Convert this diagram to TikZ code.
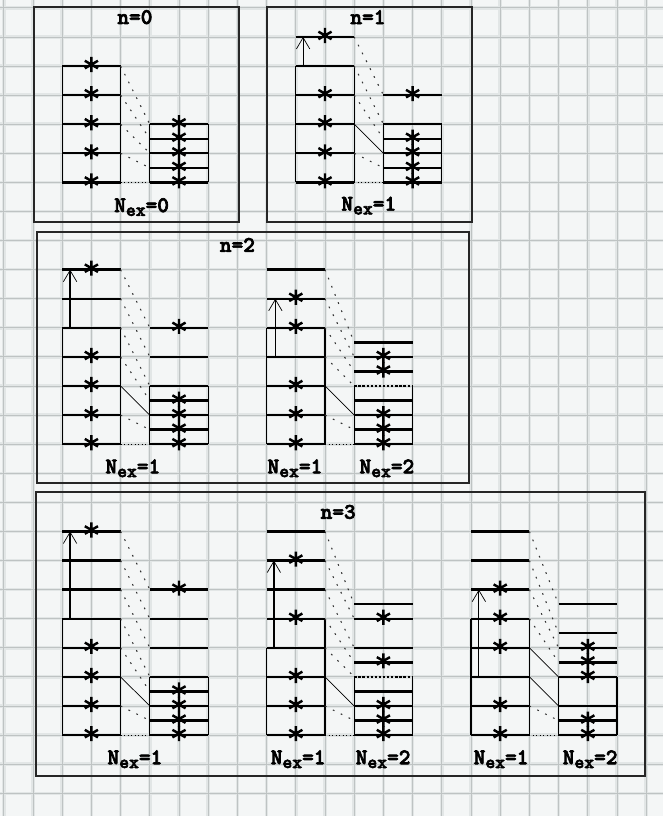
\documentclass[tikz,border=0pt]{standalone}
\usepackage{fontspec}
\newfontfamily\labfont{lmmonolt10-bold}[Extension=.otf, FakeBold=3]
\usepackage{tikz}
\usetikzlibrary{arrows.meta}
\definecolor{paper}{RGB}{244,246,246}
\definecolor{rule}{RGB}{190,195,195}
\definecolor{haze}{RGB}{226,230,230}
\newcommand\nex[1]{N\raisebox{-.4ex}{\fontsize{16}{16}\selectfont ex}=#1}

\begin{document}
\begin{tikzpicture}[x=0.876cm, y=0.8727cm]

        % Styles for levels, links and labels
        \tikzset{
            lev/.style={line width=2pt},
            open lev/.style={line width=1.5pt, dash pattern=on 2pt off 1.5pt},
            side/.style={line width=1pt},
            link/.style={black!80, line width=0.9pt, dash pattern=on 1.5pt off 6pt},
            floor/.style={line width=0.8pt, dash pattern=on 0.8pt off 2.2pt},
            slide/.style={line width=0.6pt},
            hop/.style={line width=1.4pt, -{Straight Barb[length=3.4mm, width=4mm, line width=0.6pt]}},
            thin hop/.style={hop, line width=0.7pt},
            frame/.style={line width=1.2pt, black!85},
            heading/.style={font=\labfont\fontsize{19}{21}\selectfont, inner sep=0pt},
            elec/.pic={\draw[line width=2.1pt] (0,-.26) -- (0,.26) (-30:.26) -- (150:.26) (30:.26) -- (210:.26);}
        }

        % =================================================================
        % Graph paper
        % =================================================================
        \useasboundingbox (-1.130,-25.782) rectangle (21.575,2.269);
        \fill[paper] (-1.130,-25.782) rectangle (21.575,2.269);
        \draw[haze, line width=3pt, step=1] (-1.130,-25.782) grid (21.575,2.269);
        \draw[rule, line width=0.7pt, step=1] (-1.130,-25.782) grid (21.575,2.269);

        % Frames and titles
        \draw[frame] (0.03,-5.36) rectangle (7.05,2.03);
        \draw[frame] (8.01,-5.36) rectangle (15.03,2.03);
        \draw[frame] (0.14,-14.33) rectangle (14.93,-5.71);
        \draw[frame] (0.10,-24.41) rectangle (20.96,-14.64);
        \draw[frame, line width=2pt] (0.10,-14.64) -- (20.96,-14.64);
        \node[heading] (n0) at (3.49,1.68) {n=0};
        \node[heading] (n1) at (11.47,1.68) {n=1};
        \node[heading] (n2) at (7.00,-6.15) {n=2};
        \node[heading] (n3) at (10.45,-15.33) {n=3};

        % =================================================================
        % 1. n=0
        % =================================================================
        \begin{scope}[shift={(1,-4)}]
            \foreach \y in {0,1,2,3,4} \draw[lev] (0,\y) -- (2,\y);
            \draw[side] (0,0) -- (0,4) (2,0) -- (2,4);
            \foreach \y in {0,1,2,3,4} \pic at (1,\y+.05) {elec};

            \foreach \y in {0,.5,1,1.5,2} \draw[lev] (3,\y) -- (5,\y);
            \draw[side] (3,0) -- (3,2) (5,0) -- (5,2);
            \foreach \y in {0,.5,1,1.5,2} \pic at (4,\y+.05) {elec};

            \foreach \a/\b in {4/2,3/1.5,2/1,1/.5} \draw[link] (2,\a) -- (3,\b);
            \draw[floor] (2,0) -- (3,0);
            \node[heading] (nex0) at (2.72,-.85) {\nex{0}};
        \end{scope}

        % =================================================================
        % 2. n=1
        % =================================================================
        \begin{scope}[shift={(9,-4)}]
            \foreach \y in {0,1,2,3,4,5} \draw[lev] (0,\y) -- (2,\y);
            \draw[side] (0,0) -- (0,4) (2,0) -- (2,4);
            \foreach \y in {0,1,2,3,5} \pic at (1,\y+.05) {elec};
            \draw[thin hop] (.25,4) -- (.25,5);

            \foreach \y in {0,.5,1,1.5,2,3} \draw[lev] (3,\y) -- (5,\y);
            \draw[side] (3,0) -- (3,2) (5,0) -- (5,2);
            \foreach \y in {0,.5,1,1.5,3} \pic at (4,\y+.05) {elec};

            \foreach \a/\b in {5/3,4/2,3/1.5,1/.5} \draw[link] (2,\a) -- (3,\b);
            \draw[slide] (2,2) -- (3,1);
            \draw[floor] (2,0) -- (3,0);
            \node[heading] (nex1) at (2.5,-.8) {\nex{1}};
        \end{scope}

        % =================================================================
        % 3. n=2, one particle lifted
        % =================================================================
        \begin{scope}[shift={(1,-13)}]
            \foreach \y in {0,...,6} \draw[lev] (0,\y) -- (2,\y);
            \draw[side] (0,0) -- (0,4) (2,0) -- (2,4);
            \foreach \y in {0,1,2,3,6} \pic at (1,\y+.05) {elec};
            \draw[hop] (.27,4) -- (.27,6);

            \foreach \y in {0,.5,1,1.5,2,3,4} \draw[lev] (3,\y) -- (5,\y);
            \draw[side] (3,0) -- (3,2) (5,0) -- (5,2);
            \foreach \y in {0,.5,1,1.5,4} \pic at (4,\y+.05) {elec};

            \foreach \a/\b in {6/4,5/3,4/2,3/1.5,1/.5} \draw[link] (2,\a) -- (3,\b);
            \draw[slide] (2,2) -- (3,1);
            \draw[floor] (2,0) -- (3,0);
            \node[heading] (nex2a) at (2.42,-.83) {\nex{1}};
        \end{scope}

        % =================================================================
        % 4. n=2, two holes
        % =================================================================
        \begin{scope}[shift={(8,-13)}]
            \foreach \y in {0,...,6} \draw[lev] (0,\y) -- (2,\y);
            \draw[side] (0,0) -- (0,4) (2,0) -- (2,4);
            \foreach \y in {0,1,2,4,5} \pic at (1,\y+.05) {elec};
            \draw[hop] (.3,3) -- (.3,5);

            \foreach \y in {0,.5,1,1.5,2.5,3,3.5} \draw[lev] (3,\y) -- (5,\y);
            \draw[open lev] (3,2) -- (5,2);
            \draw[side] (3,0) -- (3,2) (5,0) -- (5,2);
            \foreach \y in {0,.5,1,2.5,3} \pic at (4,\y+.05) {elec};

            \foreach \a/\b in {6/3.5,5/3,4/2.5,3/2,1/.5} \draw[link] (2,\a) -- (3,\b);
            \draw[slide] (2,2) -- (3,1);
            \draw[floor] (2,0) -- (3,0);
            \node[heading] (nex2b) at (0.97,-.83) {\nex{1}};
            \node[heading] (nex2c) at (4.12,-.83) {\nex{2}};
        \end{scope}

        % =================================================================
        % 5. n=3, one particle lifted
        % =================================================================
        \begin{scope}[shift={(1,-23)}]
            \foreach \y in {0,...,7} \draw[lev] (0,\y) -- (2,\y);
            \draw[side] (0,0) -- (0,4) (2,0) -- (2,4);
            \foreach \y in {0,1,2,3,7} \pic at (1,\y+.05) {elec};
            \draw[hop] (.27,4) -- (.27,7);

            \foreach \y in {0,.5,1,1.5,2,3,4,5} \draw[lev] (3,\y) -- (5,\y);
            \draw[side] (3,0) -- (3,2) (5,0) -- (5,2);
            \foreach \y in {0,.5,1,1.5,5} \pic at (4,\y+.05) {elec};

            \foreach \a/\b in {7/5,6/4,5/3,4/2,3/1.5,1/.5} \draw[link] (2,\a) -- (3,\b);
            \draw[slide] (2,2) -- (3,1);
            \draw[floor] (2,0) -- (3,0);
            \node[heading] (nex3a) at (2.49,-.83) {\nex{1}};
        \end{scope}

        % =================================================================
        % 6. n=3, lifted from the third level
        % =================================================================
        \begin{scope}[shift={(8,-23)}]
            \foreach \y in {0,...,7} \draw[lev] (0,\y) -- (2,\y);
            \draw[side] (0,0) -- (0,3) (2,0) -- (2,4);
            \foreach \y in {0,1,2,4,6} \pic at (1,\y+.05) {elec};
            \draw[hop] (.25,3) -- (.25,6);

            \foreach \y in {0,.5,1,1.5,2.5,3,4,4.5} \draw[lev] (3,\y) -- (5,\y);
            \draw[open lev] (3,2) -- (5,2);
            \draw[side] (3,0) -- (3,2) (5,0) -- (5,2);
            \foreach \y in {0,.5,1,2.5,4} \pic at (4,\y+.05) {elec};

            \foreach \a/\b in {7/4.5,6/4,5/3,4/2.5,3/2,1/.5} \draw[link] (2,\a) -- (3,\b);
            \draw[slide] (2,2) -- (3,1);
            \draw[floor] (2,0) -- (3,0);
            \node[heading] (nex3b) at (1.08,-.83) {\nex{1}};
            \node[heading] (nex3c) at (3.99,-.83) {\nex{2}};
        \end{scope}

        % =================================================================
        % 7. n=3, lifted from the second level
        % =================================================================
        \begin{scope}[shift={(15,-23)}]
            \foreach \y in {0,...,7} \draw[lev] (0,\y) -- (2,\y);
            \draw[side] (0,0) -- (0,4) (2,0) -- (2,4);
            \foreach \y in {0,1,3,4,5} \pic at (1,\y+.05) {elec};
            \draw[thin hop] (.27,2) -- (.27,5);

            \foreach \y in {0,.5,1,2,2.5,3,3.5,4.5} \draw[lev] (3,\y) -- (5,\y);
            \draw[side] (3,0) -- (3,2) (5,0) -- (5,2);
            \foreach \y in {0,.5,2,2.5,3} \pic at (4,\y+.05) {elec};

            \foreach \a/\b in {7/4.5,6/3.5,5/3,4/2.5,1/.5} \draw[link] (2,\a) -- (3,\b);
            \draw[slide] (2,3) -- (3,2) (2,2) -- (3,1);
            \draw[floor] (2,0) -- (3,0);
            \node[heading] (nex3d) at (1.03,-.83) {\nex{1}};
            \node[heading] (nex3e) at (4.08,-.83) {\nex{2}};
        \end{scope}
    \end{tikzpicture}
\end{document}
